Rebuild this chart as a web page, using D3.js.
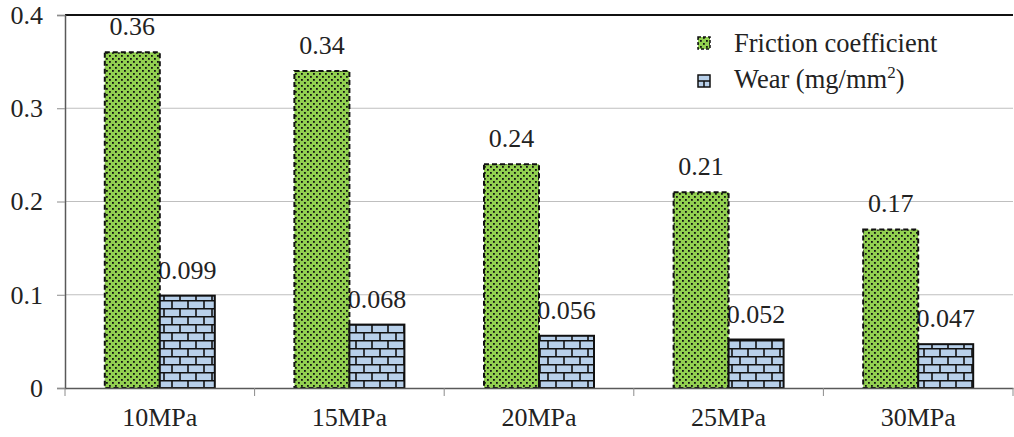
<!DOCTYPE html>
<html>
<head>
<meta charset="utf-8">
<script src="https://cdn.jsdelivr.net/npm/d3@7"></script>
<style>
  body { margin: 0; background: #fff; }
</style>
</head>
<body>
<svg width="1014" height="437"></svg>
<script>
var categories = ["10MPa", "15MPa", "20MPa", "25MPa", "30MPa"];
var friction = [0.36, 0.34, 0.24, 0.21, 0.17];
var wear = [0.099, 0.068, 0.056, 0.052, 0.047];
var frictionLabels = ["0.36", "0.34", "0.24", "0.21", "0.17"];
var wearLabels = ["0.099", "0.068", "0.056", "0.052", "0.047"];
var yTicks = [0, 0.1, 0.2, 0.3, 0.4];

var svg = d3.select("svg");
var plotL = 65, plotR = 1013, plotT = 15, plotB = 388;
var fs = 26;
var serif = "'Liberation Serif', 'Times New Roman', serif";

var x = d3.scaleBand().domain(categories).range([plotL, plotR]);
var y = d3.scaleLinear().domain([0, 0.4]).range([plotB, plotT]);
var barW = 55;
var groupOff = (x.bandwidth() - 2 * barW) / 2;

var defs = svg.append("defs");
// dotted green
var pg = defs.append("pattern").attr("id", "dots")
  .attr("patternUnits", "userSpaceOnUse").attr("width", 6).attr("height", 6);
pg.append("rect").attr("width", 6).attr("height", 6).attr("fill", "#92d050");
pg.append("rect").attr("x", 1).attr("y", 1).attr("width", 1.8).attr("height", 1.8).attr("fill", "#111");
pg.append("rect").attr("x", 4).attr("y", 4).attr("width", 1.8).attr("height", 1.8).attr("fill", "#111");
// bricks blue
var pb = defs.append("pattern").attr("id", "bricks")
  .attr("patternUnits", "userSpaceOnUse").attr("width", 16).attr("height", 16)
  .attr("y", plotB);
pb.append("rect").attr("width", 16).attr("height", 16).attr("fill", "#b8d0ea");
pb.append("path")
  .attr("d", "M0,0.75H16 M0,8.75H16 M4,0V8 M12,8V16")
  .attr("stroke", "#111").attr("stroke-width", 1.6);

// gridlines
svg.append("g").selectAll("line").data(yTicks.slice(1, 4)).enter().append("line")
  .attr("x1", plotL).attr("x2", plotR)
  .attr("y1", function (d) { return y(d); }).attr("y2", function (d) { return y(d); })
  .attr("stroke", "#bfbfbf").attr("stroke-width", 1.2);

// top border
svg.append("line").attr("x1", plotL).attr("x2", plotR).attr("y1", plotT).attr("y2", plotT)
  .attr("stroke", "#111").attr("stroke-width", 2);

// wear labels (sit under bars)
svg.append("g").selectAll("text").data(wear).enter().append("text")
  .attr("x", function (d, i) { return x(categories[i]) + groupOff + barW * 1.5; })
  .attr("y", function (d) { return y(d) - 17; })
  .attr("text-anchor", "middle")
  .style("font-family", serif).style("font-size", fs + "px").style("fill", "#222")
  .text(function (d, i) { return wearLabels[i]; });

// friction bars
svg.append("g").selectAll("rect").data(friction).enter().append("rect")
  .attr("x", function (d, i) { return x(categories[i]) + groupOff; })
  .attr("y", function (d) { return y(d); })
  .attr("width", barW)
  .attr("height", function (d) { return plotB - y(d); })
  .attr("fill", "url(#dots)")
  .attr("stroke", "#111").attr("stroke-width", 2).attr("stroke-dasharray", "5,3");

// wear bars
svg.append("g").selectAll("rect").data(wear).enter().append("rect")
  .attr("x", function (d, i) { return x(categories[i]) + groupOff + barW; })
  .attr("y", function (d) { return y(d); })
  .attr("width", barW)
  .attr("height", function (d) { return plotB - y(d); })
  .attr("fill", "url(#bricks)")
  .attr("stroke", "#111").attr("stroke-width", 2);

// friction labels
svg.append("g").selectAll("text").data(friction).enter().append("text")
  .attr("x", function (d, i) { return x(categories[i]) + groupOff + barW * 0.5; })
  .attr("y", function (d) { return y(d) - 17; })
  .attr("text-anchor", "middle")
  .style("font-family", serif).style("font-size", fs + "px").style("fill", "#222")
  .text(function (d, i) { return frictionLabels[i]; });

// y axis
var yAxis = svg.append("g").attr("transform", "translate(" + plotL + ",0)")
  .call(d3.axisLeft(y).tickValues(yTicks).tickSize(8).tickPadding(14)
    .tickFormat(function (d) { return d === 0 ? "0" : d3.format(".1f")(d); }));
yAxis.select(".domain").attr("stroke", "#595959").attr("stroke-width", 1.5);
yAxis.selectAll(".tick line").attr("stroke", "#8c8c8c");
yAxis.selectAll("text").style("font-family", serif).style("font-size", fs + "px").style("fill", "#222");

// x axis
var xAxis = svg.append("g").attr("transform", "translate(0," + plotB + ")")
  .call(d3.axisBottom(x).tickSize(0).tickPadding(20));
xAxis.select(".domain").attr("stroke", "#595959").attr("stroke-width", 1.5);
xAxis.selectAll("text").style("font-family", serif).style("font-size", fs + "px").style("fill", "#222");
svg.append("g").selectAll("line").data(categories.concat([null])).enter().append("line")
  .attr("x1", function (d, i) { return plotL + i * x.step(); })
  .attr("x2", function (d, i) { return plotL + i * x.step(); })
  .attr("y1", plotB).attr("y2", plotB + 8)
  .attr("stroke", "#8c8c8c");

// legend
var lg = svg.append("g");
lg.append("rect").attr("x", 698).attr("y", 37).attr("width", 12).attr("height", 12)
  .attr("fill", "url(#dots)").attr("stroke", "#111").attr("stroke-width", 1.5).attr("stroke-dasharray", "3,2");
lg.append("text").attr("x", 734).attr("y", 52)
  .style("font-family", serif).style("font-size", "26.5px").style("fill", "#222")
  .text("Friction coefficient");
lg.append("rect").attr("x", 698).attr("y", 75).attr("width", 12).attr("height", 12)
  .attr("fill", "#b8d0ea").attr("stroke", "#111").attr("stroke-width", 1.5);
lg.append("path").attr("d", "M698,81H710 M704,81V87").attr("stroke", "#111").attr("stroke-width", 1.5);
var wt = lg.append("text").attr("x", 734).attr("y", 88)
  .style("font-family", serif).style("font-size", "26.5px").style("fill", "#222");
wt.append("tspan").text("Wear (mg/mm");
wt.append("tspan").style("font-size", "17px").attr("dy", -10).text("2");
wt.append("tspan").attr("dy", 10).text(")");
</script>
</body>
</html>
